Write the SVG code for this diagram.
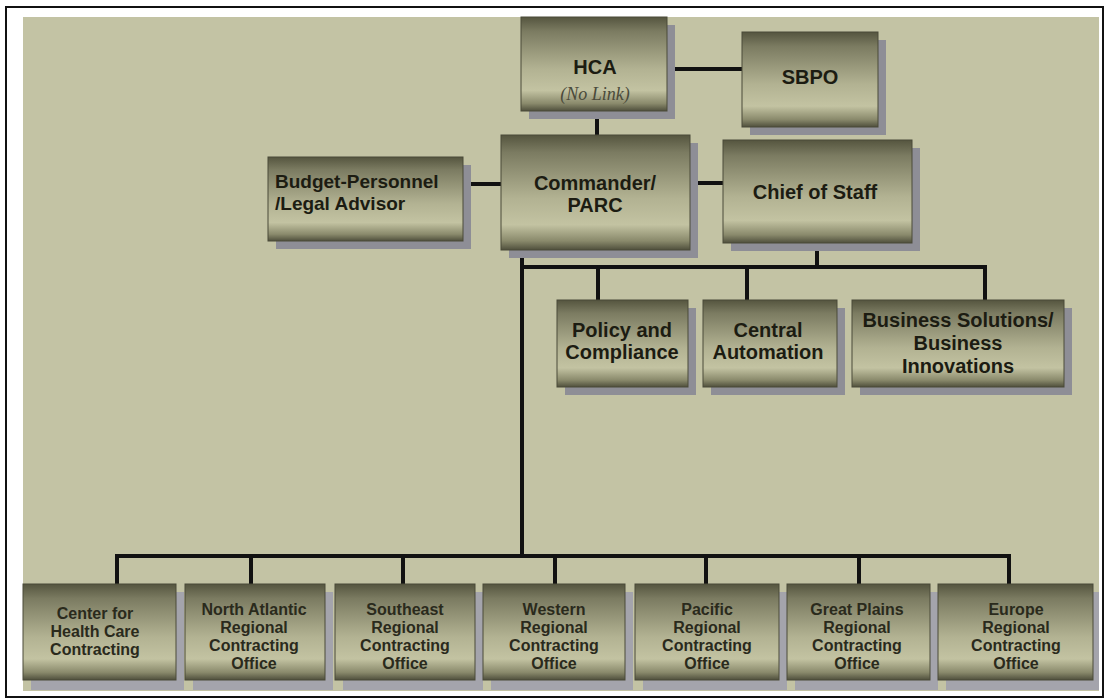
<svg xmlns="http://www.w3.org/2000/svg" width="1109" height="698" viewBox="0 0 1109 698">
<style>
.box{fill:url(#g);stroke:#4a4a38;stroke-width:1}
.sh{fill:#8e8e96}
.shl{fill:#a4a4ac}
.t{font-family:"Liberation Sans",Arial,sans-serif;font-weight:bold;font-size:20px;fill:#1c1c12;text-anchor:middle}
.ts{font-family:"Liberation Sans",Arial,sans-serif;font-weight:bold;font-size:16px;fill:#2a2a1c;text-anchor:middle}
.tl{font-family:"Liberation Sans",Arial,sans-serif;font-weight:bold;font-size:19px;fill:#1c1c12}
.it{font-family:"Liberation Serif","Times New Roman",serif;font-style:italic;font-size:18px;fill:#4a4a3a;text-anchor:middle}
.ln{stroke:#111;stroke-width:4;fill:none}
</style>
<defs>
<linearGradient id="g" x1="0" y1="0" x2="0" y2="1">
<stop offset="0" stop-color="#55553f"/>
<stop offset="0.15" stop-color="#7b7b61"/>
<stop offset="0.55" stop-color="#b2b292"/>
<stop offset="0.78" stop-color="#c3c3a2"/>
<stop offset="0.92" stop-color="#8a8a6c"/>
<stop offset="1" stop-color="#4f4f3c"/>
</linearGradient>
</defs>
<rect x="0" y="0" width="1109" height="698" fill="#ffffff"/>
<rect x="6" y="7" width="1097" height="690" fill="#ffffff" stroke="#111" stroke-width="2"/>
<rect x="23" y="17" width="1076" height="674" fill="#c3c3a4"/>

<g id="connectors">
<line class="ln" x1="667" y1="69" x2="742" y2="69"/>
<line class="ln" x1="597" y1="111" x2="597" y2="135"/>
<line class="ln" x1="463" y1="184" x2="501" y2="184"/>
<line class="ln" x1="690" y1="183" x2="723" y2="183"/>
<line class="ln" x1="817" y1="250" x2="817" y2="267"/>
<polyline class="ln" points="522,258 522,267 985,267 985,300"/>
<line class="ln" x1="598" y1="267" x2="598" y2="300"/>
<line class="ln" x1="747" y1="267" x2="747" y2="300"/>
<line class="ln" x1="522" y1="267" x2="522" y2="556"/>
<polyline class="ln" points="117,584 117,556 1009,556 1009,584"/>
<line class="ln" x1="251" y1="556" x2="251" y2="584"/>
<line class="ln" x1="403" y1="556" x2="403" y2="584"/>
<line class="ln" x1="555" y1="556" x2="555" y2="584"/>
<line class="ln" x1="706" y1="556" x2="706" y2="584"/>
<line class="ln" x1="859" y1="556" x2="859" y2="584"/>
</g>

<g id="hca">
<rect class="sh" x="529" y="25" width="146" height="94"/>
<rect class="box" x="521" y="17" width="146" height="94"/>
<text class="t" x="595" y="74">HCA</text>
<text class="it" x="595" y="100">(No Link)</text>
</g>
<g id="sbpo">
<rect class="sh" x="750" y="40" width="136" height="95"/>
<rect class="box" x="742" y="32" width="136" height="95"/>
<text class="t" x="810" y="84">SBPO</text>
</g>
<g id="commander">
<rect class="sh" x="509" y="143" width="189" height="115"/>
<rect class="box" x="501" y="135" width="189" height="115"/>
<text class="t" x="595" y="190">Commander/</text>
<text class="t" x="595" y="212">PARC</text>
</g>
<g id="budget">
<rect class="sh" x="276" y="165" width="195" height="84"/>
<rect class="box" x="268" y="157" width="195" height="84"/>
<text class="tl" x="275" y="188">Budget-Personnel</text>
<text class="tl" x="275" y="210">/Legal Advisor</text>
</g>
<g id="chief">
<rect class="sh" x="731" y="148" width="189" height="103"/>
<rect class="box" x="723" y="140" width="189" height="103"/>
<text class="t" x="815" y="199">Chief of Staff</text>
</g>
<g id="policy">
<rect class="sh" x="565" y="308" width="131" height="87"/>
<rect class="box" x="557" y="300" width="131" height="87"/>
<text class="t" x="622" y="337">Policy and</text>
<text class="t" x="622" y="359">Compliance</text>
</g>
<g id="central">
<rect class="sh" x="711" y="308" width="134" height="87"/>
<rect class="box" x="703" y="300" width="134" height="87"/>
<text class="t" x="768" y="337">Central</text>
<text class="t" x="768" y="359">Automation</text>
</g>
<g id="business">
<rect class="sh" x="860" y="308" width="212" height="87"/>
<rect class="box" x="852" y="300" width="212" height="87"/>
<text class="t" x="958" y="327">Business Solutions/</text>
<text class="t" x="958" y="350">Business</text>
<text class="t" x="958" y="373">Innovations</text>
</g>

<g id="health">
<rect class="shl" x="31" y="592" width="153" height="98"/>
<rect class="box" x="23" y="584" width="153" height="96"/>
<text class="ts" x="95" y="619">Center for</text>
<text class="ts" x="95" y="637">Health Care</text>
<text class="ts" x="95" y="655">Contracting</text>
</g>
<g id="northatlantic">
<rect class="shl" x="193" y="592" width="140" height="98"/>
<rect class="box" x="185" y="584" width="140" height="96"/>
<text class="ts" x="254" y="615">North Atlantic</text>
<text class="ts" x="254" y="633">Regional</text>
<text class="ts" x="254" y="651">Contracting</text>
<text class="ts" x="254" y="669">Office</text>
</g>
<g id="southeast">
<rect class="shl" x="343" y="592" width="140" height="98"/>
<rect class="box" x="335" y="584" width="140" height="96"/>
<text class="ts" x="405" y="615">Southeast</text>
<text class="ts" x="405" y="633">Regional</text>
<text class="ts" x="405" y="651">Contracting</text>
<text class="ts" x="405" y="669">Office</text>
</g>
<g id="western">
<rect class="shl" x="491" y="592" width="142" height="98"/>
<rect class="box" x="483" y="584" width="142" height="96"/>
<text class="ts" x="554" y="615">Western</text>
<text class="ts" x="554" y="633">Regional</text>
<text class="ts" x="554" y="651">Contracting</text>
<text class="ts" x="554" y="669">Office</text>
</g>
<g id="pacific">
<rect class="shl" x="643" y="592" width="144" height="98"/>
<rect class="box" x="635" y="584" width="144" height="96"/>
<text class="ts" x="707" y="615">Pacific</text>
<text class="ts" x="707" y="633">Regional</text>
<text class="ts" x="707" y="651">Contracting</text>
<text class="ts" x="707" y="669">Office</text>
</g>
<g id="greatplains">
<rect class="shl" x="795" y="592" width="143" height="98"/>
<rect class="box" x="787" y="584" width="143" height="96"/>
<text class="ts" x="857" y="615">Great Plains</text>
<text class="ts" x="857" y="633">Regional</text>
<text class="ts" x="857" y="651">Contracting</text>
<text class="ts" x="857" y="669">Office</text>
</g>
<g id="europe">
<rect class="shl" x="946" y="592" width="153" height="98"/>
<rect class="box" x="938" y="584" width="155" height="96"/>
<text class="ts" x="1016" y="615">Europe</text>
<text class="ts" x="1016" y="633">Regional</text>
<text class="ts" x="1016" y="651">Contracting</text>
<text class="ts" x="1016" y="669">Office</text>
</g>
</svg>
